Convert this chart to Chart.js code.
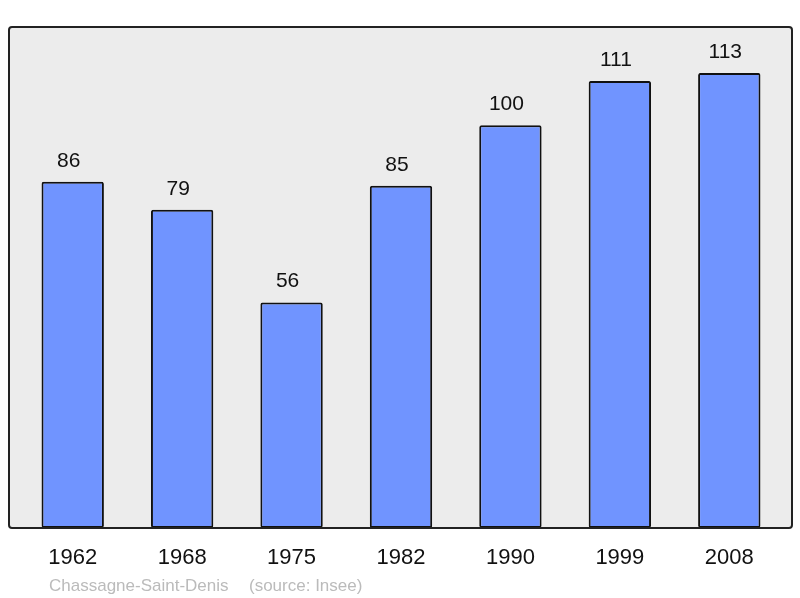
<!DOCTYPE html>
<html><head><meta charset="utf-8">
<script src="https://cdn.jsdelivr.net/npm/chart.js@4/dist/chart.umd.min.js"></script>
<style>html,body{margin:0;padding:0;background:#fff}#wrap{width:800px;height:598px}</style>
</head><body><div id="wrap"><canvas id="c" width="800" height="598"></canvas></div>
<script>
const years = ["1962","1968","1975","1982","1990","1999","2008"];
const population = [86,79,56,85,100,111,113];
const captionName = "Chassagne-Saint-Denis";
const captionSource = "(source: Insee)";

const bgPlugin = {
  id:'bg',
  beforeDraw(chart){
    const {ctx, chartArea:a} = chart;
    ctx.save();
    const x0=a.left-9, x1=a.right+8, y0=a.top, y1=a.bottom;
    ctx.beginPath();
    ctx.roundRect(x0,y0,x1-x0,y1-y0,3);
    ctx.fillStyle='#ececec';
    ctx.fill();
    ctx.restore();
  },
  afterDatasetsDraw(chart){
    const {ctx, chartArea:a} = chart;
    ctx.save();
    const x0=a.left-9, x1=a.right+8, y0=a.top, y1=a.bottom;
    ctx.beginPath();
    ctx.roundRect(x0,y0,x1-x0,y1-y0,3);
    ctx.lineWidth=2;
    ctx.strokeStyle='#222';
    ctx.stroke();
    const meta = chart.getDatasetMeta(0);
    ctx.font='21px "Liberation Sans", Arial, sans-serif';
    ctx.fillStyle='#111';
    ctx.textAlign='center';
    ctx.textBaseline='alphabetic';
    meta.data.forEach((bar,i)=>{
      ctx.fillText(String(population[i]), bar.x-4, bar.y-15);
    });
    ctx.font='17px "Liberation Sans", Arial, sans-serif';
    ctx.fillStyle='#bbbbbb';
    ctx.textAlign='left';
    ctx.fillText(captionName, 49, 591);
    ctx.fillText(captionSource, 249, 591);
    ctx.restore();
  }
};

new Chart(document.getElementById('c'), {
  type:'bar',
  data:{labels:years, datasets:[{data:population, backgroundColor:'#7094ff', borderColor:'#111', borderWidth:2, borderRadius:2, borderSkipped:false, barPercentage:0.57, categoryPercentage:1}]},
  options:{
    responsive:false, animation:false, devicePixelRatio:1,
    layout:{padding:{left:18, right:16, top:27, bottom:0}},
    plugins:{legend:{display:false}, tooltip:{enabled:false}},
    scales:{
      y:{display:false, min:0, max:124.4},
      x:{grid:{display:false, drawTicks:false}, border:{display:false},
         ticks:{color:'#111', padding:17, font:{family:'"Liberation Sans", Arial, sans-serif', size:22}},
         afterFit(s){ s.height = 70; }}
    }
  },
  plugins:[bgPlugin]
});
</script></body></html>
